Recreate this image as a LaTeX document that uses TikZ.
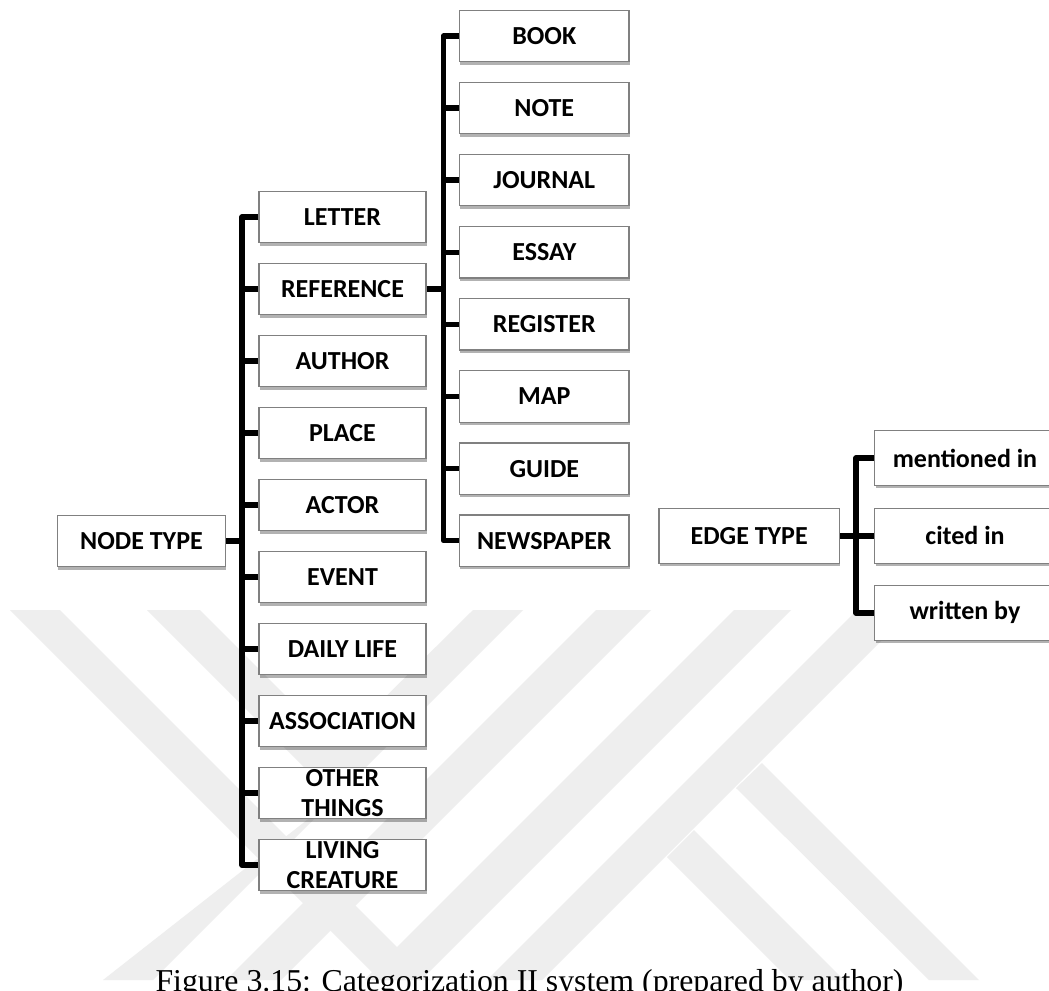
\documentclass[tikz,border=0pt]{standalone}
\usepackage{fontspec}
\setmainfont{Carlito}
\newfontfamily\captionfont{Liberation Serif}
\usetikzlibrary{shadows}
\definecolor{wmgray}{RGB}{238,238,238}
\definecolor{boxline}{RGB}{128,128,128}

\begin{document}
\begin{tikzpicture}[x=0.75pt,y=-0.75pt,
  cat/.style={draw=boxline, line width=0.9pt, fill=white, inner sep=0pt, align=center,
    font=\fontsize{19.5}{22.5}\selectfont\bfseries,
    drop shadow={shadow xshift=0.6pt, shadow yshift=-2.2pt, fill=black, opacity=0.3}},
  colA/.style={cat, minimum width=125.25pt, minimum height=38.5pt},
  colB/.style={cat, minimum width=127.1pt, minimum height=38.5pt},
  rootbox/.style={cat, minimum width=126pt, minimum height=38.25pt},
  edgebox/.style={cat, minimum width=135.4pt, minimum height=41.25pt},
  link/.style={line width=4.1pt, line join=round},
]
% page frame
\useasboundingbox (0,0) rectangle (1049,990);
\clip (0,0) rectangle (1049,990);
\fill[white] (0,0) rectangle (1049,990);

% faint background emblem
\begin{scope}
  \clip (0,610) rectangle (1049,980);
  \fill[wmgray] (10,610) -- (60,610) -- (430,980) -- (380,980) -- cycle;
  \fill[wmgray] (147,610) -- (200,610) -- (336,746) -- (473,610) -- (523,610)
                -- (153,980) -- (103,980) -- (335,798) -- cycle;
  \fill[wmgray] (596,610) -- (651,610) -- (281,980) -- (226,980) -- cycle;
  \fill[wmgray] (734,610) -- (791,610) -- (421,980) -- (364,980) -- cycle;
  \fill[wmgray] (857,610) -- (912,610) -- (542,980) -- (487,980) -- cycle;
  \fill[wmgray] (762,763) -- (979,980) -- (929,980) -- (736,788) -- cycle;
  \fill[wmgray] (694,830) -- (844,980) -- (790,980) -- (667,857) -- cycle;
\end{scope}

% node type tree
\node[rootbox] (nodetype) at (141.5,541.2) {NODE TYPE};
\node[colA] (letter)    at (342.5,217.2) {LETTER};
\node[colA] (reference) at (342.5,289.2) {REFERENCE};
\node[colA] (author)    at (342.5,361.2) {AUTHOR};
\node[colA] (place)     at (342.5,433.2) {PLACE};
\node[colA] (actor)     at (342.5,505.2) {ACTOR};
\node[colA] (event)     at (342.5,577.2) {EVENT};
\node[colA] (daily)     at (342.5,649.2) {DAILY LIFE};
\node[colA] (assoc)     at (342.5,721.2) {ASSOCIATION};
\node[colA] (other)     at (342.5,793.2) {OTHER\\THINGS};
\node[colA] (living)    at (342.5,865.2) {LIVING\\CREATURE};

% reference subtypes
\node[colB] (book)      at (544.3,36.0)  {BOOK};
\node[colB] (note)      at (544.3,108.1) {NOTE};
\node[colB] (journal)   at (544.3,180.2) {JOURNAL};
\node[colB] (essay)     at (544.3,252.3) {ESSAY};
\node[colB] (register)  at (544.3,324.4) {REGISTER};
\node[colB] (map)       at (544.3,396.5) {MAP};
\node[colB] (guide)     at (544.3,468.6) {GUIDE};
\node[colB] (newspaper) at (544.3,540.7) {NEWSPAPER};

% edge type tree
\node[edgebox] (edgetype)  at (749.2,535.8) {EDGE TYPE};
\node[edgebox] (mentioned) at (965,458.0)   {mentioned in};
\node[edgebox] (cited)     at (965,535.8)   {cited in};
\node[edgebox] (written)   at (965,612.9)   {written by};

% bus lines
\coordinate (busA) at (242,0);
\coordinate (busB) at (443.5,0);
\coordinate (busC) at (856,0);

\draw[link] (nodetype.east) -- (nodetype.east -| busA);
\draw[link] (letter.west) -- (letter.west -| busA) -- (living.west -| busA) -- (living.west);
\foreach \n in {reference,author,place,actor,event,daily,assoc,other}
  \draw[link] (\n.west) -- (\n.west -| busA);

\draw[link] (reference.east) -- (reference.east -| busB);
\draw[link] (book.west) -- (book.west -| busB) -- (newspaper.west -| busB) -- (newspaper.west);
\foreach \n in {note,journal,essay,register,map,guide}
  \draw[link] (\n.west) -- (\n.west -| busB);

\draw[link] (edgetype.east) -- (edgetype.east -| busC);
\draw[link] (mentioned.west) -- (mentioned.west -| busC) -- (written.west -| busC) -- (written.west);
\draw[link] (cited.west) -- (cited.west -| busC);

% caption, running off the lower edge of the page
\node[anchor=base, inner sep=0pt, font=\captionfont\fontsize{23.85}{28}\selectfont]
  (caption) at (529.5,991) {Figure 3.15: Categorization II system (prepared by author)};
\end{tikzpicture}
\end{document}
